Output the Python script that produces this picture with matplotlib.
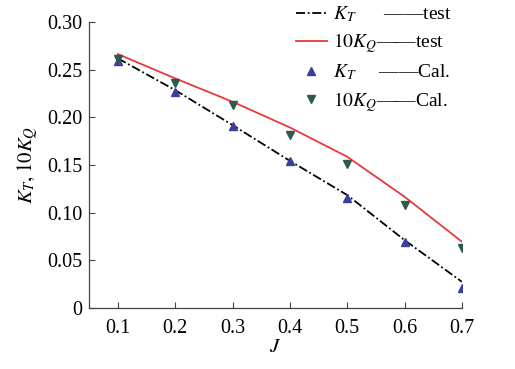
import matplotlib
matplotlib.use("Agg")
import matplotlib.pyplot as plt

plt.rcParams['font.family'] = ['Liberation Serif', 'DejaVu Serif']
plt.rcParams['mathtext.fontset'] = 'stix'

# 数据
J = [0.1, 0.2, 0.3, 0.4, 0.5, 0.6, 0.7]
kt_test = [0.262, 0.2287, 0.192, 0.1545, 0.1186, 0.0713, 0.0276]
kq10_test = [0.2665, 0.241, 0.2165, 0.1895, 0.1588, 0.1168, 0.0696]
kt_cal = [0.259, 0.227, 0.191, 0.1545, 0.116, 0.0696, 0.0213]
kq10_cal = [0.261, 0.236, 0.213, 0.1815, 0.151, 0.108, 0.0626]

xticks = [0.1, 0.2, 0.3, 0.4, 0.5, 0.6, 0.7]
yticks = [0, 0.05, 0.10, 0.15, 0.20, 0.25, 0.30]
ytick_labels = ['0', '0.05', '0.10', '0.15', '0.20', '0.25', '0.30']

fig = plt.figure(figsize=(5.15, 3.69), dpi=100)
ax = fig.add_axes([0.173, 0.165, 0.724, 0.775])

ax.plot(J, kt_test, color='black', linestyle=(0, (5, 1.5, 1, 1.5)), lw=1.3,
        label=r'$K_T$      ——test')
ax.plot(J, kq10_test, color='#e8393a', lw=1.3,
        label=r'$10K_Q$——test')
ax.plot(J, kt_cal, linestyle='none', marker='^', ms=6, color='#3b3f9a',
        label=r'$K_T$     ——Cal.')
ax.plot(J, kq10_cal, linestyle='none', marker='v', ms=6, color='#2c5a4c',
        label=r'$10K_Q$——Cal.')

ax.set_xlim(0.05, 0.7)
ax.set_ylim(0, 0.30)
ax.set_xticks(xticks)
ax.set_xticklabels([str(x) for x in xticks])
ax.set_yticks(yticks)
ax.set_yticklabels(ytick_labels)
ax.tick_params(direction='in', length=4, width=0.8, labelsize=14.5, color='#444444')
ax.tick_params(axis='x', pad=8)
ax.tick_params(axis='y', pad=5)
ax.spines['top'].set_visible(False)
ax.spines['right'].set_visible(False)
for s in ['left', 'bottom']:
    ax.spines[s].set_color('#444444')
    ax.spines[s].set_linewidth(0.9)

ax.set_xlabel(r'$J$', fontsize=15, labelpad=0)
ax.set_ylabel(r'$K_T, 10K_Q$', fontsize=15, labelpad=5)

leg = fig.legend(loc='upper left', bbox_to_anchor=(0.548, 1.025), frameon=False,
                 fontsize=14, handlelength=1.6, handletextpad=0.3, labelspacing=0.38,
                 borderpad=0.2, markerscale=0.9)

fig.savefig('out.png', dpi=100)
